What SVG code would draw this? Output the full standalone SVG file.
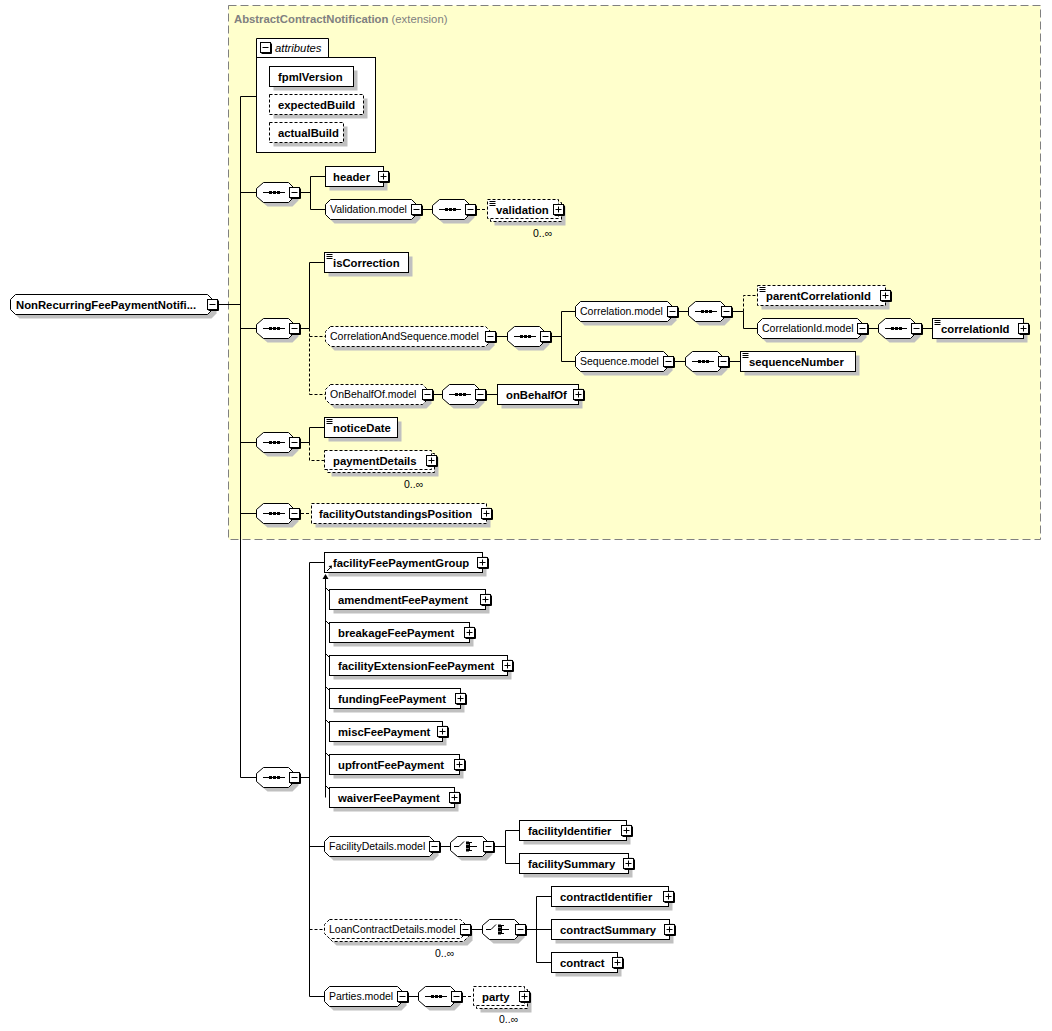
<svg xmlns="http://www.w3.org/2000/svg" xmlns:xlink="http://www.w3.org/1999/xlink" width="1052" height="1031" viewBox="0 0 1052 1031">
<style>
.bx{fill:#fff;stroke:#000;stroke-width:1}
.db{fill:#fff;stroke:#000;stroke-width:1;stroke-dasharray:3,2}
.sh{fill:#c0c0c0;stroke:none}
.ln{fill:none;stroke:#000;stroke-width:1}
.dl{fill:none;stroke:#000;stroke-width:1;stroke-dasharray:3,2}
.t{font-family:"Liberation Sans",Arial,sans-serif;font-size:11.3px;font-weight:bold;fill:#000}
.m{font-family:"Liberation Sans",Arial,sans-serif;font-size:10.5px;fill:#000}
.o{font-family:"Liberation Sans",Arial,sans-serif;font-size:10.5px;fill:#000}
.ti{font-family:"Liberation Sans",Arial,sans-serif;font-size:11.3px;fill:#808080}
</style>
<defs>
<g id="mn"><rect x="0.5" y="0.5" width="10" height="10" fill="#fff" stroke="#000"/><path d="M11.5 1.5V11.5H1.5" fill="none" stroke="#000"/><path d="M2.5 5.5H8.5" stroke="#000"/></g>
<g id="pl"><rect x="0.5" y="0.5" width="10" height="10" fill="#fff" stroke="#000"/><path d="M11.5 1.5V11.5H1.5" fill="none" stroke="#000"/><path d="M2.5 5.5H8.5M5.5 2.5V8.5" stroke="#000"/></g>
<path id="ico" d="M2 1.5H8M2 3.5H8M2 5.5H8" stroke="#000" fill="none"/>
<g id="sq">
<polygon class="sh" points="11.5,4.5 36.5,4.5 42.5,10.5 42.5,18.5 36.5,24.5 11.5,24.5 4.5,18.5 4.5,10.5"/>
<polygon class="bx" points="7.5,0.5 32.5,0.5 38.5,6.5 38.5,14.5 32.5,20.5 7.5,20.5 0.5,14.5 0.5,6.5"/>
<path d="M7 10.5H29" stroke="#000"/><rect x="13" y="9" width="3" height="3" fill="#000"/><rect x="17" y="9" width="3" height="3" fill="#000"/><rect x="21" y="9" width="3" height="3" fill="#000"/>
<use href="#mn" x="33" y="5"/>
</g>
<g id="ch">
<polygon class="sh" points="11.5,4.5 36.5,4.5 42.5,10.5 42.5,18.5 36.5,24.5 11.5,24.5 4.5,18.5 4.5,10.5"/>
<polygon class="bx" points="7.5,0.5 32.5,0.5 38.5,6.5 38.5,14.5 32.5,20.5 7.5,20.5 0.5,14.5 0.5,6.5"/>
<path d="M4 10.5H9L14 5.5M19.5 6V15M19.5 6.5H22M19.5 14.5H22M19.5 10.5H27" stroke="#000" fill="none"/>
<rect x="16" y="5.5" width="3" height="3" fill="#000"/><rect x="16" y="9" width="3" height="3" fill="#000"/><rect x="16" y="12.5" width="3" height="3" fill="#000"/>
<use href="#mn" x="33" y="5"/>
</g>
</defs>

<rect id="AbstractContractNotification" x="228.5" y="5.5" width="812" height="534" fill="#ffffcc" stroke="#808080" stroke-dasharray="8,4"/>
<text class="ti" x="234" y="23"><tspan font-weight="bold">AbstractContractNotification</tspan> (extension)</text>

<g id="connectors">
<path class="ln" d="M219 304.5H240.5M240.5 96.5V777.5M240.5 96.5H256.5M240.5 192.5H256.5M240.5 328.5H256.5M240.5 442.5H256.5M240.5 513.5H256.5M240.5 777.5H256.5"/>
<path class="ln" d="M301 192.5H310.5M310.5 176.5V209.5M310.5 176.5H325.5M310.5 209.5H325.5M422 209.5H432"/>
<path class="dl" d="M477 209.5H487.5"/>
<path class="ln" d="M301 328.5H309.5M309.5 262.5V328.5M309.5 262.5H324.5"/>
<path class="dl" d="M309.5 328.5V394.5M309.5 336.5H325.5M309.5 394.5H325.5"/>
<path class="ln" d="M497 336.5H507M552 336.5H561.5M561.5 311.5V361.5M561.5 311.5H575.5M561.5 361.5H575.5"/>
<path class="ln" d="M679 311.5H688M733 311.5H743.5M743.5 311.5V328.5H757.5M869 328.5H878M923 328.5H932.5"/>
<path class="dl" d="M743.5 311.5V295.5H757.5"/>
<path class="ln" d="M675 361.5H685M730 361.5H740.5"/>
<path class="ln" d="M434 394.5H442M487 394.5H497.5"/>
<path class="ln" d="M301 442.5H309.5M309.5 427.5V442.5M309.5 427.5H324.5"/>
<path class="dl" d="M309.5 442.5V460.5H324.5"/>
<path class="dl" d="M301 513.5H311.5"/>
<path class="ln" d="M301 777.5H309.5M309.5 562.5V996.5M309.5 562.5H324.5M309.5 846.5H324.5M309.5 996.5H324.5"/>
<path class="dl" d="M309.5 929.5H324.5"/>
<path class="ln" d="M325.5 578V797.5M325.5 587.5L329.5 591.5M325.5 620.5L329.5 624.5M325.5 653.5L329.5 657.5M325.5 686.5L329.5 690.5M325.5 719.5L329.5 723.5M325.5 752.5L329.5 756.5M325.5 785.5L329.5 789.5"/>
<polygon points="325.5,574 322.5,579 328.5,579" fill="#000"/>
<path class="ln" d="M441 846.5H450M495 846.5H505.5M505.5 830.5V863.5M505.5 830.5H519.5M505.5 863.5H519.5"/>
<path class="ln" d="M472 929.5H482M527 929.5H536.5M536.5 896.5V962.5M536.5 896.5H551.5M536.5 929.5H551.5M536.5 962.5H551.5"/>
<path class="ln" d="M409 996.5H418"/>
<path class="dl" d="M463 996.5H473.5"/>
</g>

<g id="NonRecurringFeePaymentNotification">
<polygon class="sh" points="19.5,298.5 211.5,298.5 216.5,303.5 216.5,313.5 211.5,318.5 19.5,318.5 14.5,313.5 14.5,303.5"/>
<polygon class="bx" points="15.5,294.5 207.5,294.5 212.5,299.5 212.5,309.5 207.5,314.5 15.5,314.5 10.5,309.5 10.5,299.5"/>
<text class="t" x="16" y="308.5">NonRecurringFeePaymentNotifi...</text>
<use href="#mn" x="207" y="299"/>
</g>

<g id="attributes">
<path class="bx" d="M256.5 57.5V38.5H328.5V57.5"/>
<rect class="bx" x="256.5" y="57.5" width="119" height="95"/>
<use href="#mn" x="260" y="42"/>
<text x="275" y="52" font-family="Liberation Sans, Arial, sans-serif" font-size="11.3" font-style="italic" fill="#000">attributes</text>
</g>
<g id="fpmlVersion"><rect class="sh" x="273.5" y="70.5" width="84" height="20"/><rect class="bx" x="269.5" y="66.5" width="84" height="20"/><text class="t" x="278" y="80.5">fpmlVersion</text></g>
<g id="expectedBuild"><rect class="sh" x="273.5" y="98.5" width="94" height="20"/><rect class="db" x="269.5" y="94.5" width="94" height="20"/><text class="t" x="278" y="108.5">expectedBuild</text></g>
<g id="actualBuild"><rect class="sh" x="273.5" y="126.5" width="74" height="20"/><rect class="db" x="269.5" y="122.5" width="74" height="20"/><text class="t" x="278" y="136.5">actualBuild</text></g>

<g id="seq1"><use href="#sq" x="256" y="182"/></g>
<g id="header"><rect class="sh" x="329.5" y="170.5" width="58" height="20"/><rect class="bx" x="325.5" y="166.5" width="58" height="20"/><text class="t" x="333" y="180.5">header</text><use href="#pl" x="378" y="171"/></g>
<g id="Validation.model">
<polygon class="sh" points="334.5,203.5 415.5,203.5 420.5,208.5 420.5,218.5 415.5,223.5 334.5,223.5 329.5,218.5 329.5,208.5"/>
<polygon class="bx" points="330.5,199.5 411.5,199.5 416.5,204.5 416.5,214.5 411.5,219.5 330.5,219.5 325.5,214.5 325.5,204.5"/>
<text class="m" x="330" y="213">Validation.model</text><use href="#mn" x="411" y="204"/></g>
<g id="seqValidation"><use href="#sq" x="432" y="199"/></g>
<g id="validation"><rect class="sh" x="494.5" y="206.5" width="71" height="19"/><rect class="db" x="490.5" y="202.5" width="71" height="19"/><rect class="db" x="487.5" y="199.5" width="71" height="19"/><use href="#ico" x="487.5" y="200"/><text class="t" x="496" y="213.5">validation</text><use href="#pl" x="553" y="204"/><text class="o" x="533" y="237">0..∞</text></g>

<g id="seq2"><use href="#sq" x="256" y="318"/></g>
<g id="isCorrection"><rect class="sh" x="328.5" y="256.5" width="84" height="20"/><rect class="bx" x="324.5" y="252.5" width="84" height="20"/><use href="#ico" x="324.5" y="253"/><text class="t" x="333" y="266.5">isCorrection</text></g>
<g id="CorrelationAndSequence.model">
<polygon class="sh" points="334.5,330.5 489.5,330.5 494.5,335.5 494.5,345.5 489.5,350.5 334.5,350.5 329.5,345.5 329.5,335.5"/>
<polygon class="db" points="330.5,326.5 485.5,326.5 490.5,331.5 490.5,341.5 485.5,346.5 330.5,346.5 325.5,341.5 325.5,331.5"/>
<text class="m" x="330" y="340">CorrelationAndSequence.model</text><use href="#mn" x="485" y="331"/></g>
<g id="seqCorrelationAndSequence"><use href="#sq" x="507" y="326"/></g>
<g id="Correlation.model">
<polygon class="sh" points="584.5,305.5 671.5,305.5 676.5,310.5 676.5,320.5 671.5,325.5 584.5,325.5 579.5,320.5 579.5,310.5"/>
<polygon class="bx" points="580.5,301.5 667.5,301.5 672.5,306.5 672.5,316.5 667.5,321.5 580.5,321.5 575.5,316.5 575.5,306.5"/>
<text class="m" x="580" y="315">Correlation.model</text><use href="#mn" x="667" y="306"/></g>
<g id="seqCorrelation"><use href="#sq" x="688" y="301"/></g>
<g id="parentCorrelationId"><rect class="sh" x="761.5" y="289.5" width="128" height="20"/><rect class="db" x="757.5" y="285.5" width="128" height="20"/><use href="#ico" x="757.5" y="286"/><text class="t" x="766" y="299.5">parentCorrelationId</text><use href="#pl" x="880" y="290"/></g>
<g id="CorrelationId.model">
<polygon class="sh" points="766.5,322.5 861.5,322.5 866.5,327.5 866.5,337.5 861.5,342.5 766.5,342.5 761.5,337.5 761.5,327.5"/>
<polygon class="bx" points="762.5,318.5 857.5,318.5 862.5,323.5 862.5,333.5 857.5,338.5 762.5,338.5 757.5,333.5 757.5,323.5"/>
<text class="m" x="762" y="332">CorrelationId.model</text><use href="#mn" x="857" y="323"/></g>
<g id="seqCorrelationId"><use href="#sq" x="878" y="318"/></g>
<g id="correlationId"><rect class="sh" x="936.5" y="322.5" width="91" height="20"/><rect class="bx" x="932.5" y="318.5" width="91" height="20"/><use href="#ico" x="932.5" y="319"/><text class="t" x="941" y="332.5">correlationId</text><use href="#pl" x="1018" y="323"/></g>
<g id="Sequence.model">
<polygon class="sh" points="584.5,355.5 667.5,355.5 672.5,360.5 672.5,370.5 667.5,375.5 584.5,375.5 579.5,370.5 579.5,360.5"/>
<polygon class="bx" points="580.5,351.5 663.5,351.5 668.5,356.5 668.5,366.5 663.5,371.5 580.5,371.5 575.5,366.5 575.5,356.5"/>
<text class="m" x="580" y="365">Sequence.model</text><use href="#mn" x="663" y="356"/></g>
<g id="seqSequence"><use href="#sq" x="685" y="351"/></g>
<g id="sequenceNumber"><rect class="sh" x="744.5" y="355.5" width="115" height="20"/><rect class="bx" x="740.5" y="351.5" width="115" height="20"/><use href="#ico" x="740.5" y="352"/><text class="t" x="749" y="365.5">sequenceNumber</text></g>
<g id="OnBehalfOf.model">
<polygon class="sh" points="334.5,388.5 426.5,388.5 431.5,393.5 431.5,403.5 426.5,408.5 334.5,408.5 329.5,403.5 329.5,393.5"/>
<polygon class="db" points="330.5,384.5 422.5,384.5 427.5,389.5 427.5,399.5 422.5,404.5 330.5,404.5 325.5,399.5 325.5,389.5"/>
<text class="m" x="330" y="398">OnBehalfOf.model</text><use href="#mn" x="422" y="389"/></g>
<g id="seqOnBehalfOf"><use href="#sq" x="442" y="384"/></g>
<g id="onBehalfOf"><rect class="sh" x="501.5" y="388.5" width="81" height="20"/><rect class="bx" x="497.5" y="384.5" width="81" height="20"/><text class="t" x="506" y="398.5">onBehalfOf</text><use href="#pl" x="573" y="389"/></g>

<g id="seq3"><use href="#sq" x="256" y="432"/></g>
<g id="noticeDate"><rect class="sh" x="328.5" y="421.5" width="73" height="20"/><rect class="bx" x="324.5" y="417.5" width="73" height="20"/><use href="#ico" x="324.5" y="418"/><text class="t" x="333" y="431.5">noticeDate</text></g>
<g id="paymentDetails"><rect class="sh" x="331.5" y="457.5" width="107" height="19"/><rect class="db" x="327.5" y="453.5" width="107" height="19"/><rect class="db" x="324.5" y="450.5" width="107" height="19"/><text class="t" x="333" y="464.5">paymentDetails</text><use href="#pl" x="426" y="455"/><text class="o" x="404" y="488">0..∞</text></g>

<g id="seq4"><use href="#sq" x="256" y="503"/></g>
<g id="facilityOutstandingsPosition"><rect class="sh" x="315.5" y="507.5" width="175" height="20"/><rect class="db" x="311.5" y="503.5" width="175" height="20"/><text class="t" x="319" y="517.5">facilityOutstandingsPosition</text><use href="#pl" x="481" y="508"/></g>

<g id="seq5"><use href="#sq" x="256" y="767"/></g>
<g id="facilityFeePaymentGroup"><rect class="sh" x="328.5" y="556.5" width="158" height="20"/><rect class="bx" x="324.5" y="552.5" width="158" height="20"/><path d="M327 571L330.5 567.5" stroke="#000"/><polygon points="328.5,566 332,565.5 331.5,569" fill="#000"/><text class="t" x="333" y="566.5">facilityFeePaymentGroup</text><use href="#pl" x="477" y="557"/></g>
<g id="amendmentFeePayment"><rect class="sh" x="333.5" y="593.5" width="156" height="20"/><rect class="bx" x="329.5" y="589.5" width="156" height="20"/><text class="t" x="338" y="603.5">amendmentFeePayment</text><use href="#pl" x="480" y="594"/></g>
<g id="breakageFeePayment"><rect class="sh" x="333.5" y="626.5" width="140" height="20"/><rect class="bx" x="329.5" y="622.5" width="140" height="20"/><text class="t" x="338" y="636.5">breakageFeePayment</text><use href="#pl" x="464" y="627"/></g>
<g id="facilityExtensionFeePayment"><rect class="sh" x="333.5" y="659.5" width="178" height="20"/><rect class="bx" x="329.5" y="655.5" width="178" height="20"/><text class="t" x="338" y="669.5">facilityExtensionFeePayment</text><use href="#pl" x="502" y="660"/></g>
<g id="fundingFeePayment"><rect class="sh" x="333.5" y="692.5" width="131" height="20"/><rect class="bx" x="329.5" y="688.5" width="131" height="20"/><text class="t" x="338" y="702.5">fundingFeePayment</text><use href="#pl" x="455" y="693"/></g>
<g id="miscFeePayment"><rect class="sh" x="333.5" y="725.5" width="113" height="20"/><rect class="bx" x="329.5" y="721.5" width="113" height="20"/><text class="t" x="338" y="735.5">miscFeePayment</text><use href="#pl" x="437" y="726"/></g>
<g id="upfrontFeePayment"><rect class="sh" x="333.5" y="758.5" width="130" height="20"/><rect class="bx" x="329.5" y="754.5" width="130" height="20"/><text class="t" x="338" y="768.5">upfrontFeePayment</text><use href="#pl" x="454" y="759"/></g>
<g id="waiverFeePayment"><rect class="sh" x="333.5" y="791.5" width="125" height="20"/><rect class="bx" x="329.5" y="787.5" width="125" height="20"/><text class="t" x="338" y="801.5">waiverFeePayment</text><use href="#pl" x="449" y="792"/></g>

<g id="FacilityDetails.model">
<polygon class="sh" points="333.5,840.5 433.5,840.5 438.5,845.5 438.5,855.5 433.5,860.5 333.5,860.5 328.5,855.5 328.5,845.5"/>
<polygon class="bx" points="329.5,836.5 429.5,836.5 434.5,841.5 434.5,851.5 429.5,856.5 329.5,856.5 324.5,851.5 324.5,841.5"/>
<text class="m" x="329" y="850">FacilityDetails.model</text><use href="#mn" x="429" y="841"/></g>
<g id="choiceFacilityDetails"><use href="#ch" x="450" y="836"/></g>
<g id="facilityIdentifier"><rect class="sh" x="523.5" y="824.5" width="107" height="20"/><rect class="bx" x="519.5" y="820.5" width="107" height="20"/><text class="t" x="528" y="834.5">facilityIdentifier</text><use href="#pl" x="621" y="825"/></g>
<g id="facilitySummary"><rect class="sh" x="523.5" y="857.5" width="109" height="20"/><rect class="bx" x="519.5" y="853.5" width="109" height="20"/><text class="t" x="528" y="867.5">facilitySummary</text><use href="#pl" x="623" y="858"/></g>

<g id="LoanContractDetails.model">
<polygon class="sh" points="336.5,926.5 467.5,926.5 472.5,931.5 472.5,940.5 467.5,945.5 336.5,945.5 331.5,940.5 331.5,931.5"/>
<polygon class="db" points="332.5,922.5 463.5,922.5 468.5,927.5 468.5,936.5 463.5,941.5 332.5,941.5 327.5,936.5 327.5,927.5"/>
<polygon class="db" points="329.5,919.5 460.5,919.5 465.5,924.5 465.5,933.5 460.5,938.5 329.5,938.5 324.5,933.5 324.5,924.5"/>
<text class="m" x="329" y="933">LoanContractDetails.model</text><use href="#mn" x="460" y="924"/><text class="o" x="435" y="957">0..∞</text></g>
<g id="choiceLoanContractDetails"><use href="#ch" x="482" y="919"/></g>
<g id="contractIdentifier"><rect class="sh" x="555.5" y="890.5" width="117" height="20"/><rect class="bx" x="551.5" y="886.5" width="117" height="20"/><text class="t" x="560" y="900.5">contractIdentifier</text><use href="#pl" x="663" y="891"/></g>
<g id="contractSummary"><rect class="sh" x="555.5" y="923.5" width="118" height="20"/><rect class="bx" x="551.5" y="919.5" width="118" height="20"/><text class="t" x="560" y="933.5">contractSummary</text><use href="#pl" x="664" y="924"/></g>
<g id="contract"><rect class="sh" x="555.5" y="956.5" width="66" height="20"/><rect class="bx" x="551.5" y="952.5" width="66" height="20"/><text class="t" x="560" y="966.5">contract</text><use href="#pl" x="612" y="957"/></g>

<g id="Parties.model">
<polygon class="sh" points="333.5,990.5 401.5,990.5 406.5,995.5 406.5,1005.5 401.5,1010.5 333.5,1010.5 328.5,1005.5 328.5,995.5"/>
<polygon class="bx" points="329.5,986.5 397.5,986.5 402.5,991.5 402.5,1001.5 397.5,1006.5 329.5,1006.5 324.5,1001.5 324.5,991.5"/>
<text class="m" x="329" y="1000">Parties.model</text><use href="#mn" x="397" y="991"/></g>
<g id="seqParties"><use href="#sq" x="418" y="986"/></g>
<g id="party"><rect class="sh" x="480.5" y="993.5" width="51" height="19"/><rect class="db" x="476.5" y="989.5" width="51" height="19"/><rect class="db" x="473.5" y="986.5" width="51" height="19"/><text class="t" x="482" y="1000.5">party</text><use href="#pl" x="519" y="991"/><text class="o" x="499" y="1023">0..∞</text></g>
</svg>
